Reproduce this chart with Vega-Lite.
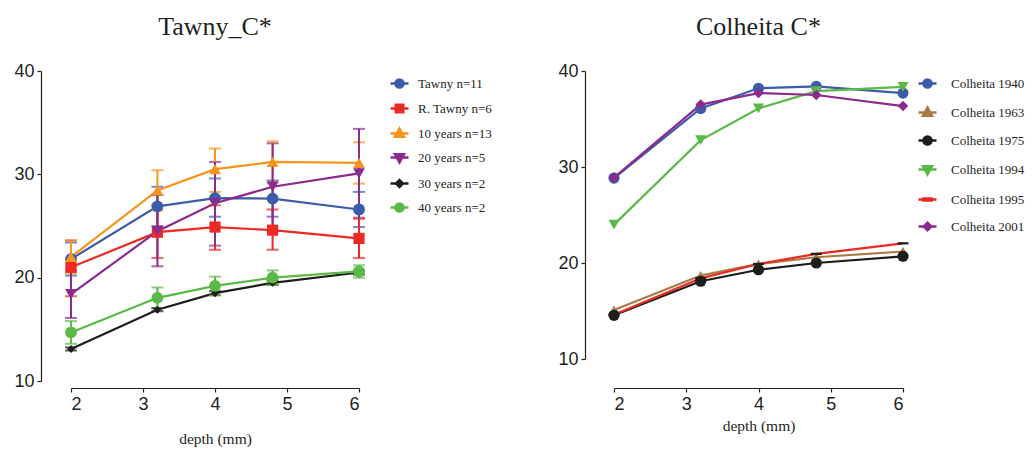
{
  "$schema": "https://vega.github.io/schema/vega-lite/v6.json",
  "background": "white",
  "padding": {"left": 13, "top": 14, "right": 5, "bottom": 5},
  "spacing": 65,
  "resolve": {
    "scale": {"x": "independent", "y": "independent", "stroke": "independent", "color": "independent"},
    "legend": {"stroke": "independent", "color": "independent"},
    "axis": {"x": "independent", "y": "independent"}
  },
  "config": {
    "view": {"stroke": null},
    "title": {"font": "Liberation Serif", "fontSize": 26, "fontWeight": "normal", "color": "#231f20", "anchor": "middle", "frame": "group", "offset": 22},
    "axis": {"grid": false, "domainColor": "#231f20", "tickColor": "#231f20", "labelColor": "#231f20", "labelFont": "Liberation Sans", "labelFontSize": 18, "tickSize": 4, "domainWidth": 1.2, "tickWidth": 1.2, "labelPadding": 3, "titleFont": "Liberation Serif", "titleFontSize": 15.5, "titleFontWeight": "normal", "titleColor": "#231f20"},
    "legend": {"orient": "none", "title": null, "labelFont": "Liberation Serif", "labelFontSize": 13, "labelColor": "#231f20", "symbolSize": 324, "symbolStrokeWidth": 2.5, "labelOffset": 8}
  },
  "hconcat": [
    {
      "width": 288,
      "height": 310,
      "title": {"text": "Tawny_C*"},
      "data": {"values": [
        {"series": "Tawny n=11", "depth": 2, "mean": 21.8, "lo": 20.2, "hi": 23.4},
        {"series": "Tawny n=11", "depth": 3.2, "mean": 26.9, "lo": 25.0, "hi": 28.8},
        {"series": "Tawny n=11", "depth": 4, "mean": 27.7, "lo": 25.9, "hi": 29.6},
        {"series": "Tawny n=11", "depth": 4.8, "mean": 27.65, "lo": 25.9, "hi": 29.4},
        {"series": "Tawny n=11", "depth": 6, "mean": 26.6, "lo": 24.9, "hi": 28.3},
        {"series": "R. Tawny n=6", "depth": 2, "mean": 21.0, "lo": 18.2, "hi": 23.6},
        {"series": "R. Tawny n=6", "depth": 3.2, "mean": 24.4, "lo": 21.9, "hi": 27.0},
        {"series": "R. Tawny n=6", "depth": 4, "mean": 24.9, "lo": 22.7, "hi": 27.0},
        {"series": "R. Tawny n=6", "depth": 4.8, "mean": 24.6, "lo": 22.7, "hi": 26.6},
        {"series": "R. Tawny n=6", "depth": 6, "mean": 23.8, "lo": 21.9, "hi": 25.7},
        {"series": "10 years n=13", "depth": 2, "mean": 22.0, "lo": 20.4, "hi": 23.6},
        {"series": "10 years n=13", "depth": 3.2, "mean": 28.45, "lo": 26.5, "hi": 30.4},
        {"series": "10 years n=13", "depth": 4, "mean": 30.5, "lo": 28.3, "hi": 32.5},
        {"series": "10 years n=13", "depth": 4.8, "mean": 31.2, "lo": 29.2, "hi": 33.2},
        {"series": "10 years n=13", "depth": 6, "mean": 31.1, "lo": 29.1, "hi": 33.1},
        {"series": "20 years n=5", "depth": 2, "mean": 18.4, "lo": 16.1, "hi": 20.7},
        {"series": "20 years n=5", "depth": 3.2, "mean": 24.5, "lo": 21.1, "hi": 28.0},
        {"series": "20 years n=5", "depth": 4, "mean": 27.2, "lo": 23.1, "hi": 31.2},
        {"series": "20 years n=5", "depth": 4.8, "mean": 28.8, "lo": 24.5, "hi": 33.0},
        {"series": "20 years n=5", "depth": 6, "mean": 30.1, "lo": 25.8, "hi": 34.4},
        {"series": "30 years n=2", "depth": 2, "mean": 13.1, "lo": 12.95, "hi": 13.25},
        {"series": "30 years n=2", "depth": 3.2, "mean": 16.9, "lo": 16.75, "hi": 17.05},
        {"series": "30 years n=2", "depth": 4, "mean": 18.5, "lo": 18.3, "hi": 18.7},
        {"series": "30 years n=2", "depth": 4.8, "mean": 19.5, "lo": 19.3, "hi": 19.7},
        {"series": "30 years n=2", "depth": 6, "mean": 20.5, "lo": 20.3, "hi": 20.7},
        {"series": "40 years n=2", "depth": 2, "mean": 14.7, "lo": 13.6, "hi": 15.8},
        {"series": "40 years n=2", "depth": 3.2, "mean": 18.05, "lo": 17.05, "hi": 19.05},
        {"series": "40 years n=2", "depth": 4, "mean": 19.2, "lo": 18.3, "hi": 20.1},
        {"series": "40 years n=2", "depth": 4.8, "mean": 20.0, "lo": 19.3, "hi": 20.7},
        {"series": "40 years n=2", "depth": 6, "mean": 20.6, "lo": 20.0, "hi": 21.2}
      ]},
      "encoding": {
        "x": {"field": "depth", "type": "quantitative", "scale": {"domain": [2, 6], "nice": false, "zero": false}, "axis": {"values": [2, 3, 4, 5, 6], "offset": 7, "title": "depth (mm)", "titlePadding": 18}},
        "y": {"field": "mean", "type": "quantitative", "scale": {"domain": [10, 40], "nice": false, "zero": false}, "axis": {"values": [10, 20, 30, 40], "offset": 30, "title": null}}
      },
      "layer": [
        {
          "mark": {"type": "line", "strokeWidth": 2.2},
          "encoding": {
            "stroke": {"field": "series", "type": "nominal",
              "scale": {"domain": ["Tawny n=11", "R. Tawny n=6", "10 years n=13", "20 years n=5", "30 years n=2", "40 years n=2"], "range": ["#3c5ba8", "#ec2a23", "#f7941d", "#8c2a8e", "#1d1d1b", "#5bb947"]},
              "legend": {"legendX": 318, "legendY": 2, "rowPadding": 5,
                "encode": {"symbols": {"update": {
                  "shape": {"signal": "['M-1,0H1M-0.45,0A0.45,0.45 0 1,0 0.45,0A0.45,0.45 0 1,0 -0.45,0Z','M-1,0H1M-0.42,-0.42H0.42V0.42H-0.42Z','M-1,0H1M0,-0.55L0.5,0.35H-0.5Z','M-1,0H1M0,0.55L0.5,-0.35H-0.5Z','M-1,0H1M0,-0.38L0.38,0L0,0.38L-0.38,0Z','M-1,0H1M-0.45,0A0.45,0.45 0 1,0 0.45,0A0.45,0.45 0 1,0 -0.45,0Z'][indexof(['Tawny n=11','R. Tawny n=6','10 years n=13','20 years n=5','30 years n=2','40 years n=2'], datum.value)]"},
                  "fill": {"signal": "['#3c5ba8','#ec2a23','#f7941d','#8c2a8e','#1d1d1b','#5bb947'][indexof(['Tawny n=11','R. Tawny n=6','10 years n=13','20 years n=5','30 years n=2','40 years n=2'], datum.value)]"},
                  "stroke": {"signal": "['#3c5ba8','#ec2a23','#f7941d','#8c2a8e','#1d1d1b','#5bb947'][indexof(['Tawny n=11','R. Tawny n=6','10 years n=13','20 years n=5','30 years n=2','40 years n=2'], datum.value)]"},
                  "fillOpacity": {"value": 1},
                  "opacity": {"value": 1},
                  "strokeWidth": {"value": 2.5}
                }}}
              }
            }
          }
        },
        {
          "mark": {"type": "errorbar", "thickness": 2, "ticks": {"size": 12, "thickness": 2}},
          "encoding": {
            "y": {"field": "lo", "type": "quantitative", "scale": {"domain": [10, 40], "nice": false, "zero": false}, "axis": {"values": [10, 20, 30, 40], "offset": 30, "title": null}},
            "y2": {"field": "hi"},
            "color": {"field": "series", "type": "nominal",
              "scale": {"domain": ["Tawny n=11", "R. Tawny n=6", "10 years n=13", "20 years n=5", "30 years n=2", "40 years n=2"], "range": ["#3c5ba8", "#ec2a23", "#f7941d", "#8c2a8e", "#1d1d1b", "#5bb947"]},
              "legend": null}
          }
        },
        {"transform": [{"filter": {"field": "series", "equal": "Tawny n=11"}}], "mark": {"type": "point", "filled": true, "opacity": 1, "size": 140, "shape": "circle", "color": "#3c5ba8"}},
        {"transform": [{"filter": {"field": "series", "equal": "R. Tawny n=6"}}], "mark": {"type": "point", "filled": true, "opacity": 1, "size": 125, "shape": "square", "color": "#ec2a23"}},
        {"transform": [{"filter": {"field": "series", "equal": "10 years n=13"}}], "mark": {"type": "point", "filled": true, "opacity": 1, "size": 140, "shape": "triangle-up", "color": "#f7941d"}},
        {"transform": [{"filter": {"field": "series", "equal": "20 years n=5"}}], "mark": {"type": "point", "filled": true, "opacity": 1, "size": 140, "shape": "triangle-down", "color": "#8c2a8e"}},
        {"transform": [{"filter": {"field": "series", "equal": "30 years n=2"}}], "mark": {"type": "point", "filled": true, "opacity": 1, "size": 130, "shape": "M0,-0.7L0.7,0L0,0.7L-0.7,0Z", "color": "#1d1d1b"}},
        {"transform": [{"filter": {"field": "series", "equal": "40 years n=2"}}], "mark": {"type": "point", "filled": true, "opacity": 1, "size": 140, "shape": "circle", "color": "#5bb947"}}
      ]
    },
    {
      "width": 289,
      "height": 288,
      "title": {"text": "Colheita C*"},
      "data": {"values": [
        {"series": "Colheita 1940", "depth": 2, "value": 28.85},
        {"series": "Colheita 1940", "depth": 3.2, "value": 36.1},
        {"series": "Colheita 1940", "depth": 4, "value": 38.2},
        {"series": "Colheita 1940", "depth": 4.8, "value": 38.4},
        {"series": "Colheita 1940", "depth": 6, "value": 37.7},
        {"series": "Colheita 1963", "depth": 2, "value": 15.1},
        {"series": "Colheita 1963", "depth": 3.2, "value": 18.7},
        {"series": "Colheita 1963", "depth": 4, "value": 19.9},
        {"series": "Colheita 1963", "depth": 4.8, "value": 20.6},
        {"series": "Colheita 1963", "depth": 6, "value": 21.2},
        {"series": "Colheita 1975", "depth": 2, "value": 14.55},
        {"series": "Colheita 1975", "depth": 3.2, "value": 18.1},
        {"series": "Colheita 1975", "depth": 4, "value": 19.3},
        {"series": "Colheita 1975", "depth": 4.8, "value": 20.0},
        {"series": "Colheita 1975", "depth": 6, "value": 20.7},
        {"series": "Colheita 1994", "depth": 2, "value": 24.0},
        {"series": "Colheita 1994", "depth": 3.2, "value": 32.8},
        {"series": "Colheita 1994", "depth": 4, "value": 36.1},
        {"series": "Colheita 1994", "depth": 4.8, "value": 37.9},
        {"series": "Colheita 1994", "depth": 6, "value": 38.35},
        {"series": "Colheita 1995", "depth": 2, "value": 14.6},
        {"series": "Colheita 1995", "depth": 3.2, "value": 18.4},
        {"series": "Colheita 1995", "depth": 4, "value": 19.9},
        {"series": "Colheita 1995", "depth": 4.8, "value": 20.95},
        {"series": "Colheita 1995", "depth": 6, "value": 22.05},
        {"series": "Colheita 2001", "depth": 2, "value": 28.9},
        {"series": "Colheita 2001", "depth": 3.2, "value": 36.5},
        {"series": "Colheita 2001", "depth": 4, "value": 37.7},
        {"series": "Colheita 2001", "depth": 4.8, "value": 37.5},
        {"series": "Colheita 2001", "depth": 6, "value": 36.35}
      ]},
      "encoding": {
        "x": {"field": "depth", "type": "quantitative", "scale": {"domain": [2, 6], "nice": false, "zero": false}, "axis": {"values": [2, 3, 4, 5, 6], "offset": 29, "title": "depth (mm)", "titlePadding": 5}},
        "y": {"field": "value", "type": "quantitative", "scale": {"domain": [10, 40], "nice": false, "zero": false}, "axis": {"values": [10, 20, 30, 40], "offset": 29, "title": null}}
      },
      "layer": [
        {
          "mark": {"type": "line", "strokeWidth": 2.2},
          "encoding": {
            "stroke": {"field": "series", "type": "nominal",
              "scale": {"domain": ["Colheita 1940", "Colheita 1963", "Colheita 1975", "Colheita 1994", "Colheita 1995", "Colheita 2001"], "range": ["#3c5ba8", "#a87b46", "#1d1d1b", "#5bb947", "#ec2a23", "#8c2a8e"]},
              "legend": {"legendX": 303, "legendY": 2, "rowPadding": 9, "labelOffset": 13,
                "encode": {"symbols": {"update": {
                  "shape": {"signal": "['M-1,0H1M-0.45,0A0.45,0.45 0 1,0 0.45,0A0.45,0.45 0 1,0 -0.45,0Z','M-1,0H1M0,-0.55L0.5,0.35H-0.5Z','M-1,0H1M-0.45,0A0.45,0.45 0 1,0 0.45,0A0.45,0.45 0 1,0 -0.45,0Z','M-1,0H1M0,0.55L0.5,-0.35H-0.5Z','M-1,0H1M-0.45,-0.1H0.45V0.1H-0.45Z','M-1,0H1M0,-0.42L0.42,0L0,0.42L-0.42,0Z'][indexof(['Colheita 1940','Colheita 1963','Colheita 1975','Colheita 1994','Colheita 1995','Colheita 2001'], datum.value)]"},
                  "fill": {"signal": "['#3c5ba8','#a87b46','#1d1d1b','#5bb947','#1d1d1b','#8c2a8e'][indexof(['Colheita 1940','Colheita 1963','Colheita 1975','Colheita 1994','Colheita 1995','Colheita 2001'], datum.value)]"},
                  "stroke": {"signal": "['#3c5ba8','#a87b46','#1d1d1b','#5bb947','#ec2a23','#8c2a8e'][indexof(['Colheita 1940','Colheita 1963','Colheita 1975','Colheita 1994','Colheita 1995','Colheita 2001'], datum.value)]"},
                  "fillOpacity": {"value": 1},
                  "opacity": {"value": 1},
                  "strokeWidth": {"value": 2.5}
                }}}
              }
            }
          }
        },
        {"transform": [{"filter": {"field": "series", "equal": "Colheita 1940"}}], "mark": {"type": "point", "filled": true, "opacity": 1, "size": 125, "shape": "circle", "color": "#3c5ba8"}},
        {"transform": [{"filter": {"field": "series", "equal": "Colheita 1963"}}], "mark": {"type": "point", "filled": true, "opacity": 1, "size": 110, "shape": "triangle-up", "color": "#a87b46"}},
        {"transform": [{"filter": {"field": "series", "equal": "Colheita 1975"}}], "mark": {"type": "point", "filled": true, "opacity": 1, "size": 125, "shape": "circle", "color": "#1d1d1b"}},
        {"transform": [{"filter": {"field": "series", "equal": "Colheita 1994"}}], "mark": {"type": "point", "filled": true, "opacity": 1, "size": 125, "shape": "triangle-down", "color": "#5bb947"}},
        {"transform": [{"filter": {"field": "series", "equal": "Colheita 1995"}}], "mark": {"type": "point", "filled": true, "opacity": 1, "size": 120, "shape": "M-1,-0.2H1V0.2H-1Z", "color": "#1d1d1b"}},
        {"transform": [{"filter": {"field": "series", "equal": "Colheita 2001"}}], "mark": {"type": "point", "filled": true, "opacity": 1, "size": 110, "shape": "diamond", "color": "#8c2a8e"}}
      ]
    }
  ]
}
